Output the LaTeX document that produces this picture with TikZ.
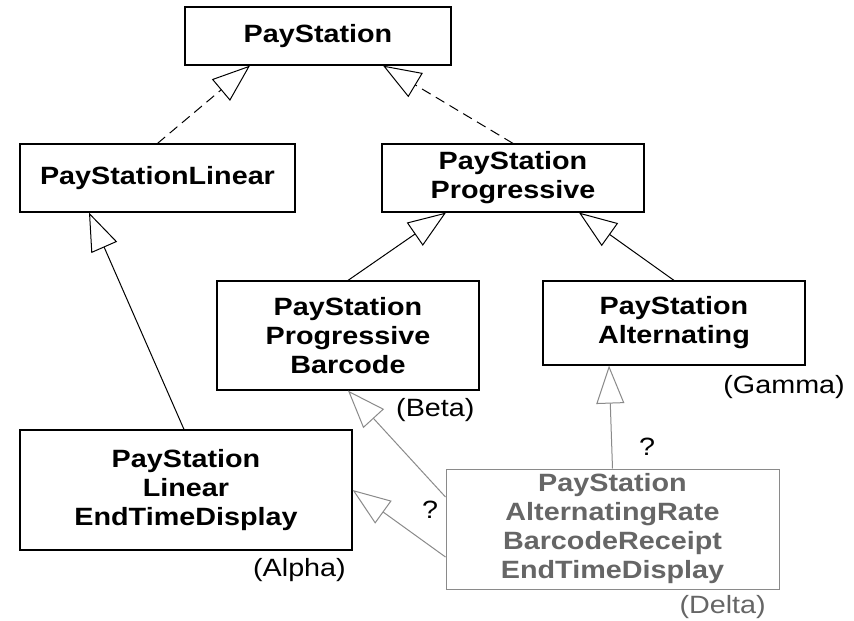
\documentclass[tikz,border=0pt]{standalone}
\usepackage{fontspec}
\setmainfont{Liberation Sans}[FakeStretch=1.15]
\usetikzlibrary{arrows.meta,calc}
\definecolor{dgray}{HTML}{666666}
\definecolor{lgray}{HTML}{8A8A8A}
\begin{document}
\begin{tikzpicture}[x=1pt,y=-1pt,
  cls/.style={draw, line width=1.2pt, inner sep=0pt, align=center, font=\fontsize{25}{29}\selectfont\bfseries},
  lbl/.style={font=\fontsize{25}{29}\selectfont, inner sep=0pt},
  gen/.style={line width=1pt, -{Triangle[open, length=38pt, width=28pt, line width=1pt]}},
  real/.style={gen, dash pattern=on 10pt off 6pt},
  grayc/.style={gen, draw=lgray}
  ]
\useasboundingbox[fill=white] (0,0) rectangle (854,621);
\node[cls, minimum width=266pt, minimum height=58pt] (ps) at (318,36) {PayStation};
\node[cls, minimum width=275pt, minimum height=68pt] (lin) at (157.5,178) {PayStationLinear};
\node[cls, minimum width=262pt, minimum height=68pt] (prog) at (513,178) {PayStation\\Progressive};
\node[cls, minimum width=262pt, minimum height=109pt] (bc) at (348,335.5) {PayStation\\Progressive\\Barcode};
\node[cls, minimum width=262pt, minimum height=84pt] (alt) at (674,323) {PayStation\\Alternating};
\node[cls, minimum width=332pt, minimum height=120pt] (etd) at (186,490) {PayStation\\Linear\\EndTimeDisplay};
\node[cls, draw=lgray, text=dgray, line width=1pt, minimum width=333pt, minimum height=120pt] (delta) at (612.5,529) {PayStation\\AlternatingRate\\BarcodeReceipt\\EndTimeDisplay};

\node[lbl, anchor=east] (gamma) at (845,387) {(Gamma)};
\node[lbl, anchor=west] (beta) at (396,410) {(Beta)};
\node[lbl, anchor=east] (alpha) at (346,570) {(Alpha)};
\node[lbl, anchor=east, text=dgray] (deltal) at (766,607) {(Delta)};
\node[lbl] (q1) at (647,447) {?};
\node[lbl] (q2) at (430,510) {?};

\draw[real] (lin.north) -- ($(ps.south)+(-68,0)$);
\draw[real] (prog.north) -- ($(ps.south)+(65,0)$);
\draw[gen] (bc.north) -- ($(prog.south)+(-67,0)$);
\draw[gen] (alt.north) -- ($(prog.south)+(66,0)$);
\draw[gen] ($(etd.north)+(-2,0)$) -- ($(lin.south)+(-68.5,0)$);
\draw[grayc] (delta.north) -- ($(alt.south)+(-65,0)$);
\draw[grayc] ($(delta.west)+(0,-32)$) -- (bc.south);
\draw[grayc] ($(delta.west)+(0,28)$) -- (etd.east);
\end{tikzpicture}
\end{document}
